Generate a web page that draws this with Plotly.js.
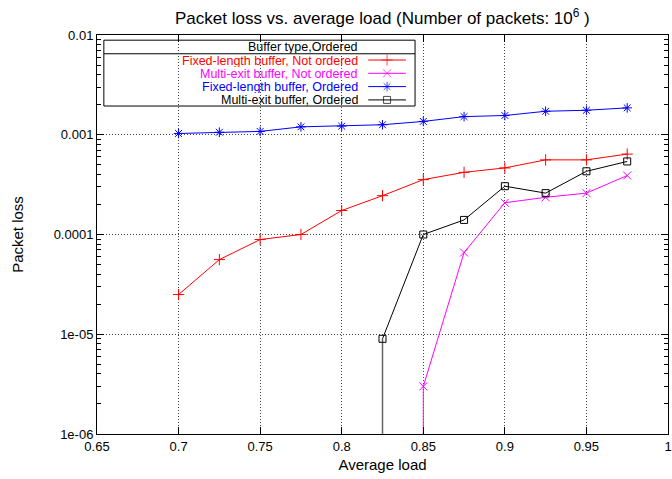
<!DOCTYPE html>
<html>
<head>
<meta charset="utf-8">
<script src="https://cdn.plot.ly/plotly-3.0.1.min.js"></script>
<style>html,body{margin:0;padding:0;background:#fff;}#chart{width:672px;height:479px;}</style>
</head>
<body>
<div id="chart"></div>
<script>
// ---- data ----
var loads = [0.7, 0.725, 0.75, 0.775, 0.8, 0.825, 0.85, 0.875, 0.9, 0.925, 0.95, 0.975];
var fixedNotOrdered = [2.5e-5, 5.6e-5, 8.9e-5, 1.0e-4, 1.74e-4, 2.45e-4, 3.55e-4, 4.2e-4, 4.65e-4, 5.6e-4, 5.6e-4, 6.4e-4];
var multiNotOrdered = [null, null, null, null, null, null, 3.0e-6, 6.6e-5, 2.08e-4, 2.36e-4, 2.6e-4, 3.9e-4];
var fixedOrdered = [1.03e-3, 1.06e-3, 1.08e-3, 1.2e-3, 1.22e-3, 1.26e-3, 1.36e-3, 1.52e-3, 1.56e-3, 1.72e-3, 1.76e-3, 1.86e-3];
var multiOrdered = [null, null, null, null, null, 9e-6, 1.0e-4, 1.4e-4, 3.05e-4, 2.6e-4, 4.3e-4, 5.4e-4];
var seriesNames = ["Fixed-length buffer, Not ordered", "Multi-exit buffer, Not ordered", "Fixed-length buffer, Ordered", "Multi-exit buffer, Ordered"];
var seriesColors = ["#ff0000", "#ff00ff", "#0000ff", "#000000"];
var seriesSymbols = ["cross-thin-open", "x-thin-open", "asterisk-open", "square-open"];
var legendTitle = "Buffer type,Ordered";
var yTickVals = [1e-6, 1e-5, 1e-4, 1e-3, 1e-2];
var yTickText = ["1e-06", "1e-05", "0.0001", "0.001", "0.01"];
var floorValue = 1e-8; // values that fall to zero drop off the bottom of the log axis

var X_RANGE = [0.65, 1];
var Y_LOG_RANGE = [-6, -2];
var allSeries = [fixedNotOrdered, multiNotOrdered, fixedOrdered, multiOrdered];
var font = "Liberation Sans, Arial, sans-serif";
var traces = [];
var drops = [];
allSeries.forEach(function (ys, i) {
  var first = ys.findIndex(function (v) { return v !== null; });
  if (first > 0) {
    drops.push({
      x: [loads[first], loads[first]], y: [ys[first], floorValue], type: "scatter", mode: "lines",
      line: {color: i === 3 ? "#666666" : seriesColors[i], width: i === 3 ? 1.5 : 1},
      showlegend: false, hoverinfo: "skip"
    });
  }
  traces.push({
    x: loads, y: ys, type: "scatter", mode: "lines+markers", name: seriesNames[i],
    line: {color: seriesColors[i], width: 1},
    marker: {symbol: seriesSymbols[i], size: i === 3 ? 7 : 8, color: seriesColors[i],
             line: {color: seriesColors[i], width: 1}},
    connectgaps: false, showlegend: false
  });
});

// minor tick positions for the log axis (2..9 within each decade)
var minorVals = [];
for (var d = Y_LOG_RANGE[0]; d < Y_LOG_RANGE[1]; d++) { for (var m = 2; m <= 9; m++) { minorVals.push(m * Math.pow(10, d)); } }

// ---- custom legend (text right-aligned, sample on the right) ----
function paperToX(p) { return X_RANGE[0] + p * (X_RANGE[1] - X_RANGE[0]); }
function paperToY(p) { return Math.pow(10, Y_LOG_RANGE[0] + p * (Y_LOG_RANGE[1] - Y_LOG_RANGE[0])); }
var titleRowY = 0.9707;
var rowY = [0.9373, 0.9040, 0.8707, 0.8373];
var textRight = 0.459, sampleX0 = 0.475, sampleX1 = 0.541, sampleMid = 0.508;
var legendFontSize = 12.5;
var shapes = [
  {type: "rect", xref: "paper", yref: "paper", x0: 0.012, x1: 0.557, y0: 0.822, y1: 0.987,
   line: {color: "#000", width: 1}, fillcolor: "#ffffff", layer: "between"},
  {type: "line", xref: "paper", yref: "paper", x0: 0.012, x1: 0.557, y0: 0.953, y1: 0.953,
   line: {color: "#000", width: 1}, layer: "between"}
];
var annotations = [
  {xref: "paper", yref: "paper", x: textRight, y: titleRowY, xanchor: "right", yanchor: "middle", height: 13,
   borderpad: 0, text: legendTitle, showarrow: false, font: {family: font, size: legendFontSize, color: "#000"}}
];
var legendMarkerTrace = {x: [], y: [], type: "scatter", mode: "markers",
  marker: {symbol: [], size: [], color: [], line: {color: [], width: 1}}, showlegend: false, hoverinfo: "skip", cliponaxis: false};
seriesNames.forEach(function (n, i) {
  annotations.push({xref: "paper", yref: "paper", x: textRight, y: rowY[i], xanchor: "right", yanchor: "middle", height: 13,
    borderpad: 0, text: n, showarrow: false, font: {family: font, size: legendFontSize, color: seriesColors[i]}});
  shapes.push({type: "line", xref: "paper", yref: "paper", x0: sampleX0, x1: sampleX1, y0: rowY[i], y1: rowY[i],
    line: {color: seriesColors[i], width: 1}, layer: "between"});
  legendMarkerTrace.x.push(paperToX(sampleMid));
  legendMarkerTrace.y.push(paperToY(rowY[i]));
  legendMarkerTrace.marker.symbol.push(seriesSymbols[i]);
  legendMarkerTrace.marker.size.push(i === 3 ? 7 : 8);
  legendMarkerTrace.marker.color.push(seriesColors[i]);
  legendMarkerTrace.marker.line.color.push(seriesColors[i]);
});

var layout = {
  width: 672, height: 479,
  margin: {l: 97, r: 4, t: 35, b: 45},
  paper_bgcolor: "#fff", plot_bgcolor: "#fff",
  font: {family: font, size: 13, color: "#000"},
  title: {text: "Packet loss vs. average load (Number of packets: 10<sup>6</sup> )",
          font: {family: font, size: 17, color: "#000"}, x: 0.569, xanchor: "center", y: 0.963, yanchor: "middle"},
  showlegend: false,
  xaxis: {
    range: X_RANGE, dtick: 0.05, tick0: 0.65, ticks: "inside", ticklen: 7, tickcolor: "#000",
    showline: true, linecolor: "#000", linewidth: 1, mirror: "ticks",
    showgrid: true, gridcolor: "#444", griddash: "1px,2px", gridwidth: 1, zeroline: false,
    tickfont: {family: font, size: 13}, title: {text: "Average load", font: {family: font, size: 15}, standoff: 6}
  },
  yaxis: {
    type: "log", range: Y_LOG_RANGE, tickmode: "array", tickvals: yTickVals, ticktext: yTickText,
    ticks: "inside", ticklen: 7, tickcolor: "#000",
    showline: true, linecolor: "#000", linewidth: 1, mirror: "ticks",
    showgrid: true, gridcolor: "#444", griddash: "1px,2px", gridwidth: 1, zeroline: false,
    minor: {tickmode: "array", tickvals: minorVals, ticks: "inside", ticklen: 4, tickcolor: "#000", showgrid: false},
    tickfont: {family: font, size: 13}, title: {text: "Packet loss", font: {family: font, size: 15}, standoff: 26}
  },
  shapes: shapes,
  annotations: annotations
};

Plotly.newPlot("chart", drops.concat(traces).concat([legendMarkerTrace]), layout, {displayModeBar: false, staticPlot: true});
</script>
</body>
</html>
